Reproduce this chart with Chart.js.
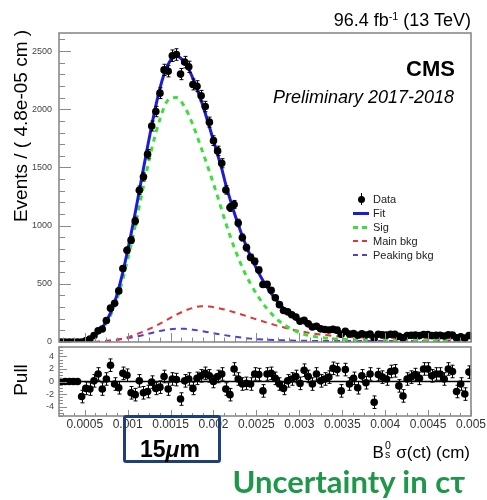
<!DOCTYPE html>
<html>
<head>
<meta charset="utf-8">
<script src="https://cdn.jsdelivr.net/npm/chart.js@4.4.1/dist/chart.umd.min.js"></script>
<style>
  html, body { margin: 0; padding: 0; background: #fff; }
  #wrap { position: relative; width: 487px; height: 500px; overflow: hidden;
          font-family: "Liberation Sans", Arial, sans-serif; color: #000; }
  canvas { position: absolute; left: 0; top: 0; }
  .t { position: absolute; white-space: nowrap; line-height: 1; z-index: 5; }
  .rot { transform: translate(-50%, -50%) rotate(-90deg); }
  #legend { left: 350px; top: 192px; font-size: 11px; color: #222; }
  #legend .row { position: relative; height: 14px; line-height: 14px; padding-left: 23px; }
  #legend .sym { position: absolute; }
  .ss { display: inline-block; position: relative; width: 0.45em; height: 1em; }
  .ss .sup { position: absolute; left: 1px; top: -0.12em; font-size: 0.62em; }
  .ss .sub { position: absolute; left: 1px; top: 0.72em; font-size: 0.62em; }
  #box { position: absolute; left: 123px; top: 415px; width: 92px; height: 42px;
         border: 3.5px solid #1f3e7c; border-radius: 3px; z-index: 4; }
</style>
</head>
<body>
<div id="wrap">
  <canvas id="main" width="487" height="500"></canvas>
  <canvas id="pull" width="487" height="500"></canvas>

  <div class="t" style="right:16px; top:11px; font-size:18px;">96.4 fb<span style="font-size:0.6em; vertical-align:0.55em;">-1</span> (13 TeV)</div>
  <div class="t" style="right:32px; top:58px; font-size:22px; font-weight:bold;">CMS</div>
  <div class="t" style="right:33px; top:88px; font-size:18px; font-style:italic;">Preliminary 2017-2018</div>

  <div id="legend" class="t">
    <div class="row"><span class="sym" style="left:11px; top:1px; width:1px; height:12px; background:#000;"></span><span class="sym" style="left:8px; top:4px; width:7px; height:7px; border-radius:50%; background:#000;"></span>Data</div>
    <div class="row"><span class="sym" style="left:3px; top:6px; width:16px; height:3px; background:#1c1cd8;"></span>Fit</div>
    <div class="row"><span class="sym" style="left:3px; top:6px; width:5px; height:3px; background:#3ae03a;"></span><span class="sym" style="left:12px; top:6px; width:5px; height:3px; background:#3ae03a;"></span>Sig</div>
    <div class="row"><span class="sym" style="left:3px; top:6px; width:5px; height:2px; background:#e23434;"></span><span class="sym" style="left:12px; top:6px; width:5px; height:2px; background:#e23434;"></span>Main bkg</div>
    <div class="row"><span class="sym" style="left:3px; top:6px; width:5px; height:2px; background:#5a3ccc;"></span><span class="sym" style="left:12px; top:6px; width:5px; height:2px; background:#5a3ccc;"></span>Peaking bkg</div>
  </div>

  <div class="t rot" style="left:20px; top:126px; font-size:19px;">Events / ( 4.8e-05 cm )</div>
  <div class="t rot" style="left:20px; top:380px; font-size:19px;">Pull</div>

  <div class="t" style="right:17px; top:441px; font-size:17px;">B<span class="ss"><span class="sup">0</span><span class="sub">s</span></span> σ(ct) (cm)</div>

  <div id="box"></div>
  <div class="t" style="left:140px; top:438px; font-size:23px; font-weight:bold;">15<i>μ</i>m</div>

  <div class="t" style="right:22px; top:466px; font-size:31px; font-weight:bold; font-family:Lato, 'Liberation Sans', sans-serif; color:#1e9848;">Uncertainty in cτ</div>
</div>

<script>
// histogram: 100 bins of 4.8e-05 cm between 0.0002 and 0.005
const xMin = 0.0002;
const xMax = 0.005;
const binWidth = 0.000048;

const dataCounts = [
  0, 0, 0, 0, 0, 0, 11, 25, 56, 96,
  112, 185, 291, 333, 439, 632, 788, 875, 1040, 1304,
  1420, 1614, 1856, 1980, 2138, 2338, 2326, 2460, 2470, 2302,
  2405, 2364, 2213, 2198, 2116, 2023, 1889, 1730, 1642, 1536,
  1306, 1156, 1182, 1023, 898, 811, 727, 693, 619, 494,
  496, 445, 380, 321, 271, 259, 234, 214, 178, 186,
  156, 129, 135, 113, 107, 103, 110, 102, 67, 93,
  69, 73, 58, 71, 60, 69, 34, 66, 62, 59,
  67, 66, 48, 36, 55, 57, 59, 55, 64, 64,
  55, 57, 57, 51, 62, 59, 36, 44, 33, 56
];

// total fit, one value per bin centre
const fitCurve = [
  0, 0, 0, 0, 0, 5, 15, 32, 55, 85,
  125, 180, 250, 340, 460, 600, 760, 930, 1110, 1300,
  1490, 1680, 1860, 2030, 2180, 2300, 2385, 2440, 2455, 2440,
  2400, 2345, 2265, 2175, 2075, 1965, 1850, 1730, 1610, 1490,
  1350, 1230, 1115, 1010, 910, 820, 738, 662, 592, 528,
  470, 418, 370, 328, 290, 257, 228, 203, 182, 163,
  146, 134, 122, 112, 103, 96, 90, 85, 80, 76,
  72, 69, 66, 64, 62, 60, 59, 58, 57, 56,
  55, 54, 53, 53, 52, 52, 51, 51, 50, 50,
  49, 49, 49, 48, 48, 48, 47, 47, 47, 46
];

// components, every second bin centre
const sigCurve = [
  0, 0, 0, 14, 50, 115, 228, 415, 685, 1000,
  1340, 1660, 1915, 2080, 2100, 2020, 1865, 1670, 1465, 1250,
  1020, 815, 641, 499, 382, 286, 210, 151, 109, 79,
  57, 44, 35, 29, 25, 21, 18, 16, 15, 14,
  13, 12, 12, 11, 11, 11, 11, 10, 10, 10
];
const mainBkgCurve = [
  0, 0, 0, 0, 0, 3, 10, 22, 40, 63,
  90, 122, 158, 196, 235, 268, 293, 307, 305, 292,
  276, 256, 234, 211, 188, 166, 145, 126, 108, 93,
  80, 69, 60, 53, 47, 43, 40, 38, 36, 35,
  34, 33, 33, 32, 32, 31, 31, 30, 30, 29
];
const peakBkgCurve = [
  0, 0, 0, 0, 2, 6, 13, 22, 33, 45,
  60, 78, 95, 108, 114, 113, 106, 95, 82, 69,
  57, 46, 37, 29, 23, 19, 16, 14, 12, 11,
  10, 9, 8, 8, 8, 8, 8, 8, 8, 8,
  8, 8, 8, 8, 8, 8, 8, 8, 8, 8
];

const pullValues = [
  0, 0, 0, 0, 0, -2.4, -1.1, -1.2, 0.1, 1.2,
  -1.2, 0.4, 2.6, -0.4, -1.0, 1.3, 1.0, -1.8, -2.1, 0.1,
  -1.8, -1.6, -0.1, -1.1, -0.9, 0.8, -1.2, 0.4, 0.3, -2.8,
  0.1, 0.4, -1.1, 0.5, 0.9, 1.3, 0.9, 0.0, 0.8, 1.2,
  -1.2, -2.1, 2.0, 0.4, -0.4, -0.3, -0.4, 1.2, 1.1, -1.5,
  1.2, 1.3, 0.5, -0.4, -1.1, 0.1, 0.4, 0.8, -0.3, 1.8,
  0.8, -0.4, 1.2, 0.1, 0.4, 0.7, 2.1, 1.9, -1.5, 1.9,
  -0.4, 0.5, -1.0, 0.9, -0.2, 1.2, -3.3, 1.1, 0.7, 0.4,
  1.6, 1.7, -0.7, -2.3, 0.4, 0.7, 1.1, 0.5, 2.0, 2.0,
  0.9, 1.2, 1.2, 0.4, 2.0, 1.6, -1.6, -0.4, -2.0, 1.5
];

const xTicks = [0.0005, 0.001, 0.0015, 0.002, 0.0025, 0.003, 0.0035, 0.004, 0.0045, 0.005];
const xTickLabels = ['0.0005', '0.001', '0.0015', '0.002', '0.0025', '0.003', '0.0035', '0.004', '0.0045', '0.005'];
const yTicks = [0, 500, 1000, 1500, 2000, 2500];
const pullTicks = [-4, -2, 0, 2, 4];

const FONT = '"Liberation Sans", Arial, sans-serif';

const binCenters = dataCounts.map((_, i) => xMin + (i + 0.5) * binWidth);
const evenCenters = sigCurve.map((_, k) => binCenters[2 * k]);
const toPts = (xs, ys) => ys.map((y, i) => ({ x: xs[i], y: y }));

// ROOT-like frame with inward ticks on left and bottom
const rootFrame = {
  id: 'rootFrame',
  afterDraw(chart, args, o) {
    const { ctx, chartArea: a, scales } = chart;
    ctx.save();
    ctx.strokeStyle = '#8a8a8a';
    ctx.lineWidth = 1.6;
    ctx.strokeRect(a.left, a.top, a.right - a.left, a.bottom - a.top);
    ctx.lineWidth = 1;
    ctx.beginPath();
    const ys = scales.y;
    for (let v = ys.min; v <= ys.max + 1e-9; v += o.yMinor) {
      const p = Math.round(ys.getPixelForValue(v)) + 0.5;
      const major = o.yMajor.some(m => Math.abs(m - v) < o.yMinor / 10);
      ctx.moveTo(a.left, p);
      ctx.lineTo(a.left + (major ? o.yLen : o.yLen / 2), p);
    }
    const xs = scales.x;
    for (let v = 0; v <= xs.max + 1e-12; v += o.xMinor) {
      if (v < xs.min) continue;
      const p = Math.round(xs.getPixelForValue(v)) + 0.5;
      const major = o.xMajor.some(m => Math.abs(m - v) < o.xMinor / 10);
      ctx.moveTo(p, a.bottom);
      ctx.lineTo(p, a.bottom - (major ? o.xLen : o.xLen / 2));
    }
    ctx.stroke();
    ctx.restore();
  }
};

// vertical error bars for the first dataset
const errorBars = {
  id: 'errorBars',
  afterDatasetsDraw(chart) {
    const { ctx, chartArea: a } = chart;
    const ds = chart.data.datasets[0];
    const meta = chart.getDatasetMeta(0);
    const ys = chart.scales.y;
    ctx.save();
    ctx.beginPath();
    ctx.rect(a.left, a.top, a.right - a.left, a.bottom - a.top);
    ctx.clip();
    ctx.strokeStyle = '#000';
    ctx.lineWidth = 1;
    ctx.beginPath();
    meta.data.forEach((pt, i) => {
      const e = ds.errs[i];
      if (!e) return;
      const v = ds.data[i].y;
      const t = ys.getPixelForValue(v + e);
      const b = ys.getPixelForValue(v - e);
      const x = Math.round(pt.x) + 0.5;
      ctx.moveTo(x, t); ctx.lineTo(x, b);
      ctx.moveTo(x - 2, t); ctx.lineTo(x + 2, t);
      ctx.moveTo(x - 2, b); ctx.lineTo(x + 2, b);
    });
    ctx.stroke();
    ctx.restore();
  }
};

const curve = (label, xs, ys, color, width, dash) => ({
  label: label,
  data: toPts(xs, ys),
  borderColor: color,
  borderWidth: width,
  borderDash: dash,
  pointRadius: 0,
  fill: false,
  cubicInterpolationMode: 'monotone'
});

new Chart(document.getElementById('main'), {
  type: 'line',
  data: {
    datasets: [
      {
        label: 'Data',
        data: toPts(binCenters, dataCounts),
        errs: dataCounts.map(n => Math.sqrt(n)),
        showLine: false,
        pointRadius: 3.8,
        pointBackgroundColor: '#000',
        pointBorderWidth: 0
      },
      curve('Fit', binCenters, fitCurve, '#1c1cd8', 3, []),
      curve('Sig', evenCenters, sigCurve, '#3ae03a', 3, [5, 5]),
      curve('Main bkg', evenCenters, mainBkgCurve, '#e23434', 2, [6, 5]),
      curve('Peaking bkg', evenCenters, peakBkgCurve, '#5a3ccc', 2, [6, 5])
    ]
  },
  options: {
    responsive: false,
    animation: false,
    devicePixelRatio: 1,
    layout: { padding: { left: 0, right: 16, top: 33, bottom: 158 } },
    plugins: {
      legend: { display: false },
      tooltip: { enabled: false },
      rootFrame: { yMajor: yTicks, yMinor: 100, yLen: 12, xMajor: xTicks, xMinor: 0.000125, xLen: 9 }
    },
    scales: {
      x: { type: 'linear', min: xMin, max: xMax, display: false },
      y: {
        min: 0, max: 2655,
        afterFit: s => { s.width = 59; },
        afterBuildTicks: s => { s.ticks = yTicks.map(v => ({ value: v })); },
        grid: { display: false, drawTicks: false },
        border: { display: false },
        ticks: { font: { size: 9, family: FONT }, color: '#444', padding: 7, callback: v => String(v) }
      }
    }
  },
  plugins: [rootFrame, errorBars]
});

new Chart(document.getElementById('pull'), {
  type: 'line',
  data: {
    datasets: [
      {
        label: 'Pull',
        data: toPts(binCenters, pullValues),
        errs: fitCurve.map(f => (f > 0 ? 1 : 0)),
        showLine: false,
        pointRadius: 3.8,
        pointBackgroundColor: '#000',
        pointBorderWidth: 0
      },
      {
        label: 'zero',
        data: [{ x: xMin, y: 0 }, { x: xMax, y: 0 }],
        borderColor: '#000',
        borderWidth: 1.5,
        pointRadius: 0
      }
    ]
  },
  options: {
    responsive: false,
    animation: false,
    devicePixelRatio: 1,
    layout: { padding: { left: 0, right: 16, top: 347, bottom: 64 } },
    plugins: {
      legend: { display: false },
      tooltip: { enabled: false },
      rootFrame: { yMajor: pullTicks, yMinor: 0.5, yLen: 8, xMajor: xTicks, xMinor: 0.000125, xLen: 6 }
    },
    scales: {
      x: {
        type: 'linear', min: xMin, max: xMax,
        afterFit: s => { s.height = 20; },
        afterBuildTicks: s => { s.ticks = xTicks.map(v => ({ value: v })); },
        grid: { display: false, drawTicks: false },
        border: { display: false },
        ticks: {
          autoSkip: false, maxRotation: 0, padding: 1,
          font: { size: 12, family: FONT }, color: '#333',
          callback: (v, i) => xTickLabels[i]
        }
      },
      y: {
        min: -5.5, max: 5.5,
        afterFit: s => { s.width = 59; },
        afterBuildTicks: s => { s.ticks = pullTicks.map(v => ({ value: v })); },
        grid: { display: false, drawTicks: false },
        border: { display: false },
        ticks: { font: { size: 9, family: FONT }, color: '#444', padding: 5 }
      }
    }
  },
  plugins: [rootFrame, errorBars]
});
</script>
</body>
</html>
